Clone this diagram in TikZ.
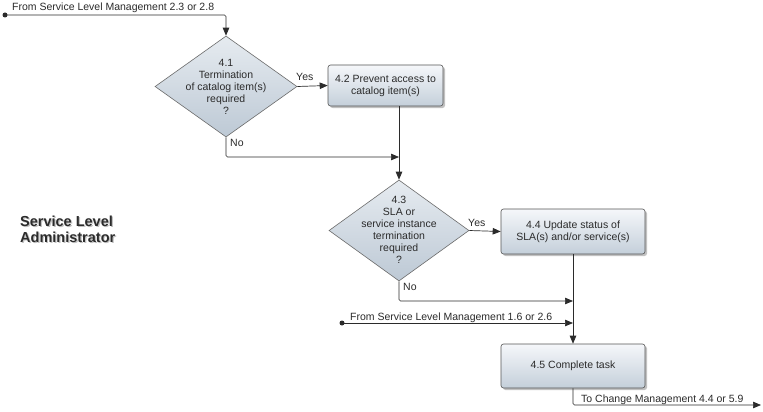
\documentclass[tikz,border=0pt]{standalone}
\usepackage{fontspec}
\setmainfont{Liberation Sans}
\usetikzlibrary{arrows.meta,shapes.geometric,shadows}
\definecolor{linec}{HTML}{2B2B2B}
\definecolor{boxtop}{HTML}{F5F7FA}
\definecolor{boxbot}{HTML}{C4CFDA}
\definecolor{dtop}{HTML}{E6EBF0}
\definecolor{dbot}{HTML}{BDC9D5}
\definecolor{shadowc}{HTML}{A8A8A8}
\tikzset{
  txt/.style={font=\fontsize{10.5}{12}\selectfont, text=linec},
  stepbox/.style={draw=linec!80, line width=0.6pt, rounded corners=2.5pt,
    top color=boxtop, bottom color=boxbot, align=center, txt,
    drop shadow={shadow xshift=2pt, shadow yshift=-2pt, fill=shadowc, opacity=0.7}},
  decision/.style={diamond, draw=linec!70, line width=0.6pt, inner sep=0pt,
    top color=dtop, bottom color=dbot, minimum width=142pt, minimum height=101pt},
  dtext/.style={txt, align=center, inner sep=0pt},
  conn/.style={draw=linec, line width=0.7pt, rounded corners=1.5pt},
  arr/.style={conn, -{Triangle[length=8pt,width=6.5pt]}},
  startdot/.style={circle, fill=linec, inner sep=0pt, minimum size=5pt},
  lbl/.style={txt, inner sep=0pt},
  rolefont/.style={font=\bfseries\fontsize{14.5}{16}\selectfont, anchor=base west, inner sep=0pt},
}
\begin{document}
\begin{tikzpicture}[x=1pt,y=-1pt]
\useasboundingbox (0,0) rectangle (763,412);
\fill[white] (0,0) rectangle (763,412);

% role label
\node[rolefont, text=shadowc!70] at (21.2,227.2) {Service Level};
\node[rolefont, text=shadowc!70] at (21.2,243.2) {Administrator};
\node (role1) [rolefont, text=linec] at (20,226) {Service Level};
\node (role2) [rolefont, text=linec] at (20,242) {Administrator};

% nodes
\node (s1) [startdot] at (5,15) {};
\node (d41) [decision] at (226,86.5) {};
\node (t41) [dtext] at (d41.center) {4.1\\Termination\\of catalog item(s)\\required\\?};
\node (b42) [stepbox, minimum width=115pt, minimum height=41pt] at (385.5,85.5) {4.2 Prevent access to\\catalog item(s)};
\node (d43) [decision, minimum width=140pt] at (399,230.5) {};
\node (t43) [dtext] at ([yshift=1pt]d43.center) {4.3\\SLA or\\service instance\\termination\\required\\?};
\node (b44) [stepbox, minimum width=144pt, minimum height=45pt] at (573,231.5) {4.4 Update status of\\SLA(s) and/or service(s)};
\node (s2) [startdot] at (342,323) {};
\node (b45) [stepbox, minimum width=144pt, minimum height=44pt] at (573,366) {4.5 Complete task};

\coordinate (m1) at (399,157);
\coordinate (m2) at (573,301);
\coordinate (m3) at (573,323);
\coordinate (e1) at (761,405);

% connectors
\draw[arr] (s1.center) -| (d41.north);
\draw[arr] (d41.east) -- (b42.west);
\draw[arr] (d41.south) |- (m1);
\draw[arr] (b42.south -| d43.north) -- (d43.north);
\draw[arr] (d43.east) -- (b44.west);
\draw[arr] (d43.south) |- (m2);
\draw[arr] (s2.center) -- (m3);
\draw[arr] (b44.south) -- (b45.north);
\draw[arr] (b45.south) |- (e1);

% labels
\node (l1) [lbl, anchor=base west] at (12,11) {From Service Level Management 2.3 or 2.8};
\node (l2) [lbl, anchor=base west] at (296,81) {Yes};
\node (l3) [lbl, anchor=base west] at (230,146) {No};
\node (l4) [lbl, anchor=base west] at (468,226) {Yes};
\node (l5) [lbl, anchor=base west] at (403,290) {No};
\node (l6) [lbl, anchor=base west] at (350,320) {From Service Level Management 1.6 or 2.6};
\node (l7) [lbl, anchor=base west] at (581,402) {To Change Management 4.4 or 5.9};
\end{tikzpicture}
\end{document}
